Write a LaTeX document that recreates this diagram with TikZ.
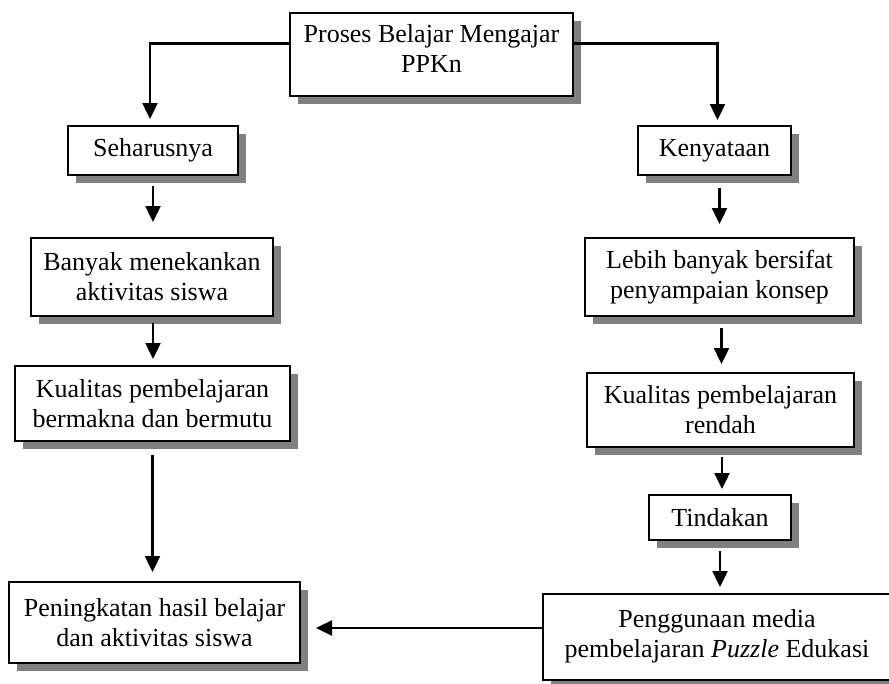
\documentclass[tikz,border=0pt]{standalone}
\usepackage{fontspec}
\setmainfont{Liberation Serif}
\usetikzlibrary{arrows.meta,shadows}
\tikzset{
  box/.style={draw=black, line width=2pt, fill=white, align=center, inner sep=0pt,
    font=\fontsize{26}{30}\selectfont,
    drop shadow={shadow xshift=8pt, shadow yshift=-8pt, fill=black!50, opacity=1}},
  conn/.style={line width=2.4pt, -{Triangle[width=15pt,length=16pt]}}
}
\begin{document}
\begin{tikzpicture}[x=1pt,y=-1pt]
\useasboundingbox (0,0) rectangle (889,683);
\node[box, minimum width=283pt, minimum height=83pt, text depth=12pt] (top) at (431.5,54.5) {Proses Belajar Mengajar\\PPKn};
\node[box, minimum width=170pt, minimum height=49pt] (seh) at (153,150.5) {Seharusnya};
\node[box, minimum width=153pt, minimum height=49pt] (ken) at (714.5,150.5) {Kenyataan};
\node[box, minimum width=242pt, minimum height=78pt] (ban) at (152,277) {Banyak menekankan\\aktivitas siswa};
\node[box, minimum width=269pt, minimum height=78pt] (leb) at (719.5,277) {Lebih banyak bersifat\\penyampaian konsep};
\node[box, minimum width=275pt, minimum height=75pt] (kb) at (152.5,403.5) {Kualitas pembelajaran\\bermakna dan bermutu};
\node[box, minimum width=267pt, minimum height=74pt] (kr) at (720.5,410) {Kualitas pembelajaran\\rendah};
\node[box, minimum width=142pt, minimum height=45pt] (tin) at (720,517.5) {Tindakan};
\node[box, minimum width=348pt, minimum height=86pt, text depth=8pt] (peng) at (717,637) {Penggunaan media\\pembelajaran \textit{Puzzle} Edukasi};
\node[box, minimum width=291pt, minimum height=81pt] (pen) at (154.5,622.5) {Peningkatan hasil belajar\\dan aktivitas siswa};

\draw[conn, shorten >=6pt] ([yshift=11pt]top.west) -| ([xshift=-3pt]seh.north);
\draw[conn, shorten >=5pt] ([yshift=11pt]top.east) -| ([xshift=3pt]ken.north);
\draw[conn, shorten <=10pt, shorten >=15pt] (seh.south) -- (seh.south |- ban.north);
\draw[conn, shorten <=6pt, shorten >=6pt] ([xshift=1pt]ban.south) -- ([xshift=1pt]ban.south |- kb.north);
\draw[conn, shorten <=13pt, shorten >=9pt] (kb.south) -- (kb.south |- pen.north);
\draw[conn, shorten <=12pt, shorten >=13pt] ([xshift=5pt]ken.south) -- ([xshift=5pt]ken.south |- leb.north);
\draw[conn, shorten <=11pt, shorten >=8pt] ([xshift=2pt]leb.south) -- ([xshift=2pt]leb.south |- kr.north);
\draw[conn, shorten <=9pt, shorten >=5pt] ([xshift=1.5pt]kr.south) -- ([xshift=1.5pt]kr.south |- tin.north);
\draw[conn, shorten <=10pt, shorten >=6pt] (tin.south) -- (tin.south |- peng.north);
\draw[conn, shorten >=15pt] ([yshift=9pt]peng.west) -- ([yshift=9pt]peng.west -| pen.east);
\end{tikzpicture}
\end{document}
